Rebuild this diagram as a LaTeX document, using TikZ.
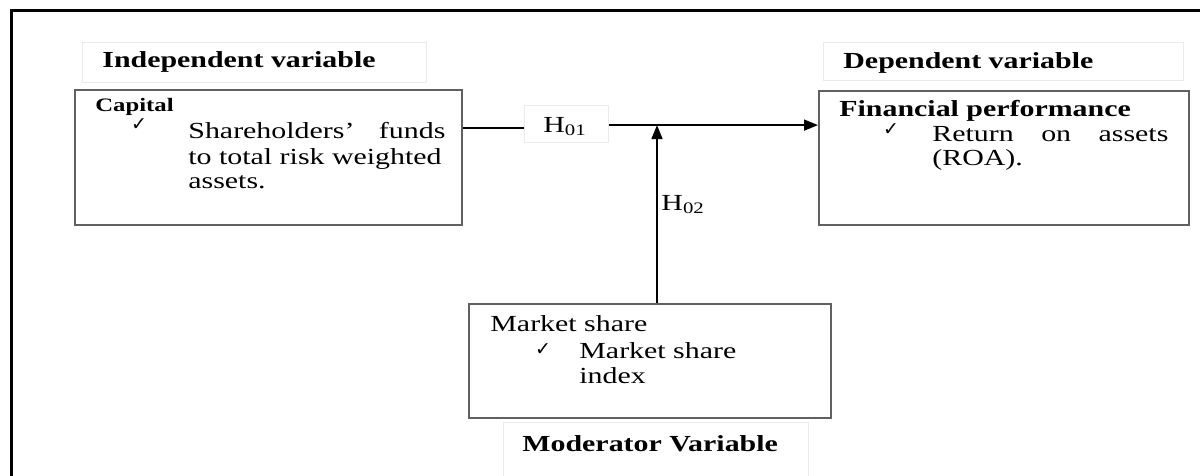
\documentclass[tikz,border=0pt]{standalone}
\usepackage{fontspec}
\setmainfont{Liberation Serif}[FakeStretch=1.3]
\newfontfamily\symfont{DejaVu Sans}
\usetikzlibrary{arrows.meta,calc}
\newcommand\ck{{\symfont\fontsize{9.5}{9.5}\selectfont ✓}}
\tikzset{
  varbox/.style={draw=black!62, line width=1.1pt, rectangle, inner sep=0pt, anchor=north west},
  labbox/.style={draw=black!8, fill=white, line width=0.6pt, rectangle, inner sep=0pt, anchor=north west},
  txt/.style={inner sep=0pt, anchor=base west, font=\fontsize{11.5}{12.5}\selectfont},
  btxt/.style={txt, font=\fontsize{11.5}{12.5}\selectfont\bfseries},
  chk/.style={inner sep=0pt, anchor=center},
  conn/.style={draw=black, line width=0.8pt},
  tip/.style={-{Triangle[length=7pt,width=5.5pt]}}
}
\begin{document}
\begin{tikzpicture}[x=0.5pt,y=-0.5pt]
\useasboundingbox (0,0) rectangle (1200,476);
% outer frame
\draw[line width=1.2pt] (11.5,480) -- (11.5,10.5) -- (1205,10.5);

% label boxes
\node[labbox, minimum width=172pt, minimum height=20pt] (indlab) at (82,42) {};
\node[labbox, minimum width=180pt, minimum height=19pt] (deplab) at (823,42) {};
\node[labbox, minimum width=152.5pt, minimum height=40pt] (modlab) at (503,422) {};
\node[labbox, minimum width=42pt, minimum height=18.5pt] (h01) at (524,105) {};

\node[btxt] (indt) at (102,68) {Independent variable};
\node[btxt] (dept) at (843,69) {Dependent variable};
\node[btxt] (modt) at (522,451) {Moderator Variable};

% main boxes
\node[varbox, minimum width=193.5pt, minimum height=67.5pt] (cap) at (74,89) {};
\node[varbox, minimum width=185pt, minimum height=67pt] (fin) at (818,90) {};
\node[varbox, minimum width=181pt, minimum height=57pt] (mkt) at (468,303) {};

% capital text
\node[txt, font=\fontsize{9.5}{10}\selectfont\bfseries] (capt) at (95,112) {Capital};
\node[chk] (ck1) at (139,125) {\ck};
\node[txt] (c1) at (188,139) {\makebox[128.5pt][s]{Shareholders’ funds}};
\node[txt] (c2) at (188,164) {to total risk weighted};
\node[txt] (c3) at (188,189) {assets.};

% financial performance text
\node[btxt] (fint) at (839,117) {Financial performance};
\node[chk] (ck2) at (891,130) {\ck};
\node[txt] (f1) at (932,141) {\makebox[118pt][s]{Return on assets}};
\node[txt] (f2) at (932,165) {(ROA).};

% market share text
\node[txt] (mt) at (490,331) {Market share};
\node[chk] (ck3) at (543,350) {\ck};
\node[txt] (m1) at (579,358) {Market share};
\node[txt] (m2) at (579,383) {index};

% hypothesis labels
\node[txt] (h01t) at (543,133) {H\raisebox{-1.2pt}{\fontsize{8}{8}\selectfont 01}};

% connectors
\coordinate (jl) at ([yshift=-2pt]h01.west);
\coordinate (jr) at ([yshift=-0.5pt]h01.east);
\coordinate (jx) at (657,0);
\draw[conn] (cap.east |- jl) -- (jl);
\draw[conn, tip] (jr) -- (fin.west |- jr);
\draw[conn, tip] (mkt.north -| jx) -- (jx |- jr);

\node[txt] (h02t) at (661,211) {H\raisebox{-1.2pt}{\fontsize{8}{8}\selectfont 02}};
\end{tikzpicture}
\end{document}
